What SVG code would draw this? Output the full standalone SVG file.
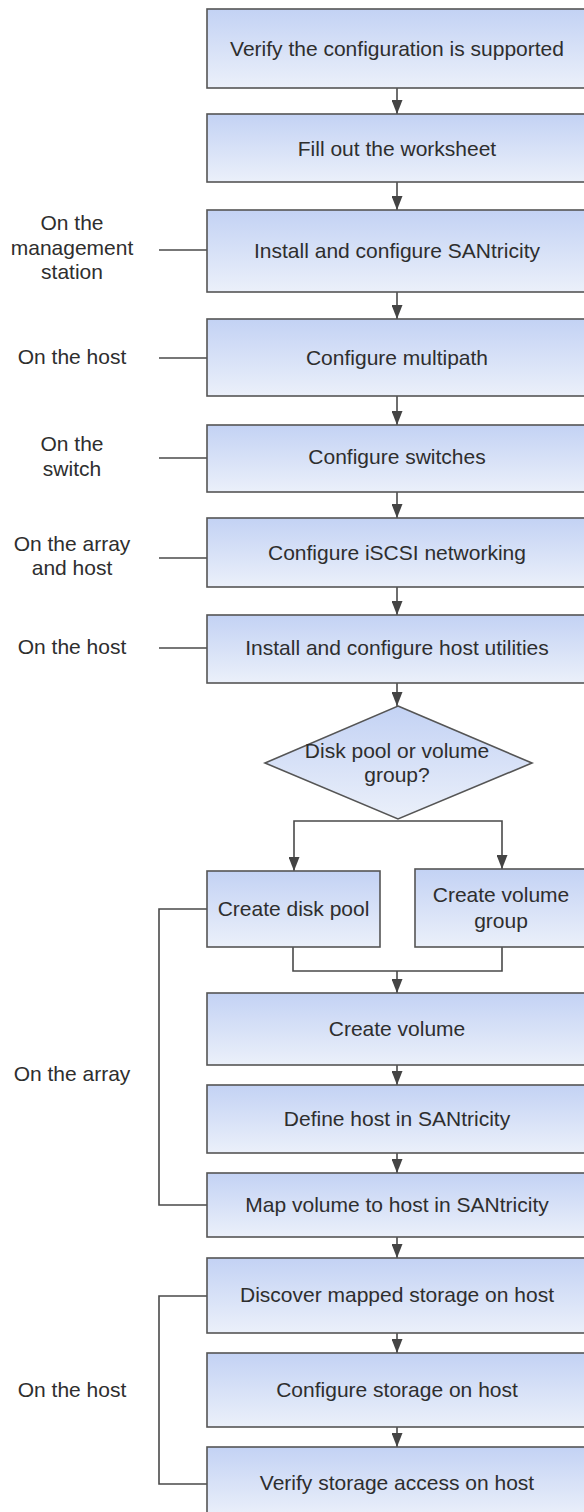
<svg xmlns="http://www.w3.org/2000/svg" width="584" height="1512" viewBox="0 0 584 1512">
<defs>
<linearGradient id="g" x1="0" y1="0" x2="0" y2="1">
<stop offset="0" stop-color="#c3d2f4"/>
<stop offset="1" stop-color="#ebf0fa"/>
</linearGradient>
<marker id="ah" markerUnits="userSpaceOnUse" markerWidth="14" markerHeight="11" refX="14" refY="5.5" orient="auto">
<path d="M0,0 L14,5.5 L0,11 z" fill="#444"/>
</marker>
<style>
.box{fill:url(#g);stroke:#555;stroke-width:1.6}
.t{font-family:"Liberation Sans",Arial,sans-serif;font-size:21px;fill:#2e2e2e;text-anchor:middle;dominant-baseline:central}
.c{fill:none;stroke:#4a4a4a;stroke-width:1.6}
</style>
</defs>
<rect width="584" height="1512" fill="#fff"/>
<g id="connectors">
<path class="c" marker-end="url(#ah)" d="M397,88 V114"/>
<path class="c" marker-end="url(#ah)" d="M397,182 V210"/>
<path class="c" marker-end="url(#ah)" d="M397,292 V319"/>
<path class="c" marker-end="url(#ah)" d="M397,396 V425"/>
<path class="c" marker-end="url(#ah)" d="M397,492 V518"/>
<path class="c" marker-end="url(#ah)" d="M397,587 V615"/>
<path class="c" marker-end="url(#ah)" d="M397,683 V706"/>
<path class="c" marker-end="url(#ah)" d="M398,821 H294 V871"/>
<path class="c" marker-end="url(#ah)" d="M398,821 H502 V869"/>
<path class="c" d="M293,947 V971 H502 V947"/>
<path class="c" marker-end="url(#ah)" d="M397,971 V993"/>
<path class="c" marker-end="url(#ah)" d="M397,1065 V1085"/>
<path class="c" marker-end="url(#ah)" d="M397,1153 V1173"/>
<path class="c" marker-end="url(#ah)" d="M397,1237 V1258"/>
<path class="c" marker-end="url(#ah)" d="M397,1333 V1353"/>
<path class="c" marker-end="url(#ah)" d="M397,1427 V1447"/>
<path class="c" d="M159,250 H207"/>
<path class="c" d="M159,358 H207"/>
<path class="c" d="M159,458 H207"/>
<path class="c" d="M159,558 H207"/>
<path class="c" d="M159,648 H207"/>
<path class="c" d="M207,909 H159 V1205 H207"/>
<path class="c" d="M207,1296 H159 V1484 H207"/>
</g>
<g id="labels">
<text class="t"><tspan x="72" y="222">On the</tspan><tspan x="72" y="247">management</tspan><tspan x="72" y="271">station</tspan></text>
<text class="t" x="72" y="356">On the host</text>
<text class="t"><tspan x="72" y="443">On the</tspan><tspan x="72" y="468">switch</tspan></text>
<text class="t"><tspan x="72" y="543">On the array</tspan><tspan x="72" y="567">and host</tspan></text>
<text class="t" x="72" y="646">On the host</text>
<text class="t" x="72" y="1073">On the array</text>
<text class="t" x="72" y="1389">On the host</text>
</g>
<g id="n1"><rect class="box" x="207" y="9" width="380" height="79"/><text class="t" x="397" y="48">Verify the configuration is supported</text></g>
<g id="n2"><rect class="box" x="207" y="114" width="380" height="68"/><text class="t" x="397" y="148">Fill out the worksheet</text></g>
<g id="n3"><rect class="box" x="207" y="210" width="380" height="82"/><text class="t" x="397" y="250">Install and configure SANtricity</text></g>
<g id="n4"><rect class="box" x="207" y="319" width="380" height="77"/><text class="t" x="397" y="357">Configure multipath</text></g>
<g id="n5"><rect class="box" x="207" y="425" width="380" height="67"/><text class="t" x="397" y="456">Configure switches</text></g>
<g id="n6"><rect class="box" x="207" y="518" width="380" height="69"/><text class="t" x="397" y="552">Configure iSCSI networking</text></g>
<g id="n7"><rect class="box" x="207" y="615" width="380" height="68"/><text class="t" x="397" y="647">Install and configure host utilities</text></g>
<g id="d1"><polygon class="box" points="398,706 532,763 398,819 265,763"/><text class="t"><tspan x="397" y="750">Disk pool or volume</tspan><tspan x="397" y="774">group?</tspan></text></g>
<g id="n8"><rect class="box" x="207" y="871" width="173" height="76"/><text class="t" x="293.5" y="908">Create disk pool</text></g>
<g id="n9"><rect class="box" x="415" y="869" width="172" height="78"/><text class="t"><tspan x="501" y="894">Create volume</tspan><tspan x="501" y="920">group</tspan></text></g>
<g id="n10"><rect class="box" x="207" y="993" width="380" height="72"/><text class="t" x="397" y="1028">Create volume</text></g>
<g id="n11"><rect class="box" x="207" y="1085" width="380" height="68"/><text class="t" x="397" y="1118">Define host in SANtricity</text></g>
<g id="n12"><rect class="box" x="207" y="1173" width="380" height="64"/><text class="t" x="397" y="1204">Map volume to host in SANtricity</text></g>
<g id="n13"><rect class="box" x="207" y="1258" width="380" height="75"/><text class="t" x="397" y="1294">Discover mapped storage on host</text></g>
<g id="n14"><rect class="box" x="207" y="1353" width="380" height="74"/><text class="t" x="397" y="1389">Configure storage on host</text></g>
<g id="n15"><rect class="box" x="207" y="1447" width="380" height="70"/><text class="t" x="397" y="1482">Verify storage access on host</text></g>
</svg>
